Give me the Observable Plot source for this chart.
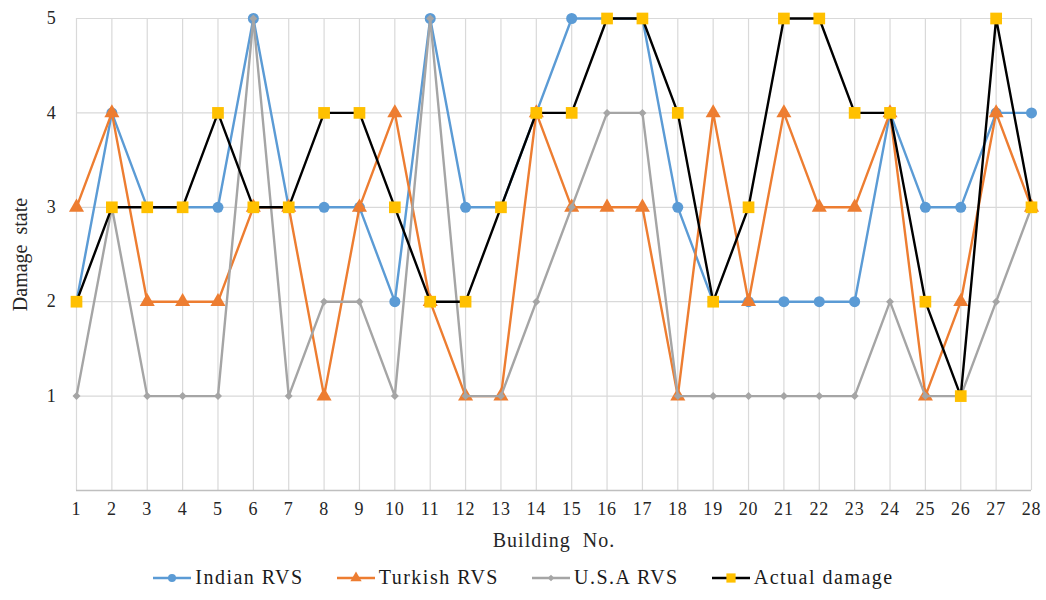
<!DOCTYPE html>
<html>
<head>
<meta charset="utf-8">
<script src="https://cdn.jsdelivr.net/npm/d3@7"></script>
<script src="https://cdn.jsdelivr.net/npm/@observablehq/plot@0.6"></script>
<style>
  html, body { margin: 0; padding: 0; background: #fff; }
  #chart { width: 1046px; }
  #chart svg, #chart svg text { font-family: "Liberation Serif", "Times New Roman", "DejaVu Serif", serif !important; }
  #chart g[aria-label="x-axis tick label"] text, #chart g[aria-label="y-axis tick label"] text { font-size: 18px !important; letter-spacing: 0.8px; }
  #chart g[aria-label="x-axis label"] text { font-size: 20px; letter-spacing: 1px; }
  #chart g[aria-label="y-axis label"] text { font-size: 20px; }
  .legend { height: 45px; display: flex; justify-content: center; align-items: center; font-family: "Liberation Serif", "Times New Roman", "DejaVu Serif", serif; font-size: 20px; letter-spacing: 1.5px; color: #1a1a1a; }
  .legend .item { display: flex; align-items: center; margin: 0 16px; }
  .legend svg { margin-right: 3px; }
</style>
</head>
<body>
<div id="chart"></div>
<script>
const buildings = d3.range(1, 29);
const indianRVS  = [2,4,3,3,3,5,3,3,3,2,5,3,3,4,5,5,5,3,2,2,2,2,2,4,3,3,4,4];
const turkishRVS = [3,4,2,2,2,3,3,1,3,4,2,1,1,4,3,3,3,1,4,2,4,3,3,4,1,2,4,3];
const usaRVS     = [1,3,1,1,1,5,1,2,2,1,5,1,1,2,3,4,4,1,1,1,1,1,1,2,1,1,2,3];
const actualDamage = [2,3,3,3,4,3,3,4,4,3,2,2,3,4,4,5,5,4,2,3,5,5,4,4,2,1,5,3];
const yTicks = [1,2,3,4,5];

const seriesDefs = [
  {name: "Indian RVS", values: indianRVS, color: "#5b9bd5", line: "#5b9bd5", symbol: "circle", r: 5.5, lr: 4},
  {name: "Turkish RVS", values: turkishRVS, color: "#ed7d31", line: "#ed7d31", symbol: "triangle", r: 5.6, lr: 4.2},
  {name: "U.S.A RVS", values: usaRVS, color: "#a5a5a5", line: "#a5a5a5", symbol: "diamond2", r: 3.6, lr: 3},
  {name: "Actual damage", values: actualDamage, color: "#ffc000", line: "#000000", symbol: "square", r: 6.6, lr: 5.2}
];

const marks = [
  Plot.ruleX(buildings, {y1: 0, y2: 5, stroke: "#d9d9d9", strokeWidth: 1.2}),
  Plot.ruleY(yTicks, {stroke: "#d9d9d9", strokeWidth: 1.2}),
  Plot.ruleY([0], {stroke: "#bfbfbf", strokeWidth: 1.5})
];
for (const s of seriesDefs) {
  const rows = buildings.map((b, i) => ({b, v: s.values[i]}));
  marks.push(Plot.line(rows, {x: "b", y: "v", stroke: s.line, strokeWidth: 2.4}));
  marks.push(Plot.dot(rows, {x: "b", y: "v", fill: s.color, stroke: "none", symbol: s.symbol, r: s.r}));
}

const chart = Plot.plot({
  width: 1046,
  height: 555,
  marginLeft: 76,
  marginRight: 15,
  marginTop: 18,
  marginBottom: 65,
  style: {fontFamily: "'Liberation Serif', 'Times New Roman', serif", fontSize: "18px", color: "#262626", background: "#fff"},
  x: {domain: [1, 28], ticks: buildings, tickFormat: d3.format("d"), tickSize: 0, tickPadding: 12, label: "Building  No.", labelArrow: "none", labelAnchor: "center", labelOffset: 56},
  y: {domain: [0, 5], ticks: yTicks, tickFormat: d3.format("d"), tickSize: 0, tickPadding: 20, label: "Damage  state", labelArrow: "none", labelAnchor: "center", labelOffset: 64},
  marks
});
document.getElementById("chart").appendChild(chart);

// legend
const legend = document.createElement("div");
legend.className = "legend";
const symMap = {circle: d3.symbolCircle, triangle: d3.symbolTriangle, diamond2: d3.symbolDiamond2, square: d3.symbolSquare};
for (const s of seriesDefs) {
  const item = document.createElement("div");
  item.className = "item";
  const sym = d3.create("svg").attr("width", 40).attr("height", 16);
  sym.append("line").attr("x1", 1).attr("x2", 39).attr("y1", 8).attr("y2", 8).attr("stroke", s.line).attr("stroke-width", 2.3);
  sym.append("path").attr("transform", "translate(20,8)").attr("fill", s.color)
    .attr("d", d3.symbol(symMap[s.symbol], Math.PI * s.lr * s.lr)());
  item.appendChild(sym.node());
  const t = document.createElement("span");
  t.textContent = s.name;
  item.appendChild(t);
  legend.appendChild(item);
}
document.body.appendChild(legend);
</script>
</body>
</html>
